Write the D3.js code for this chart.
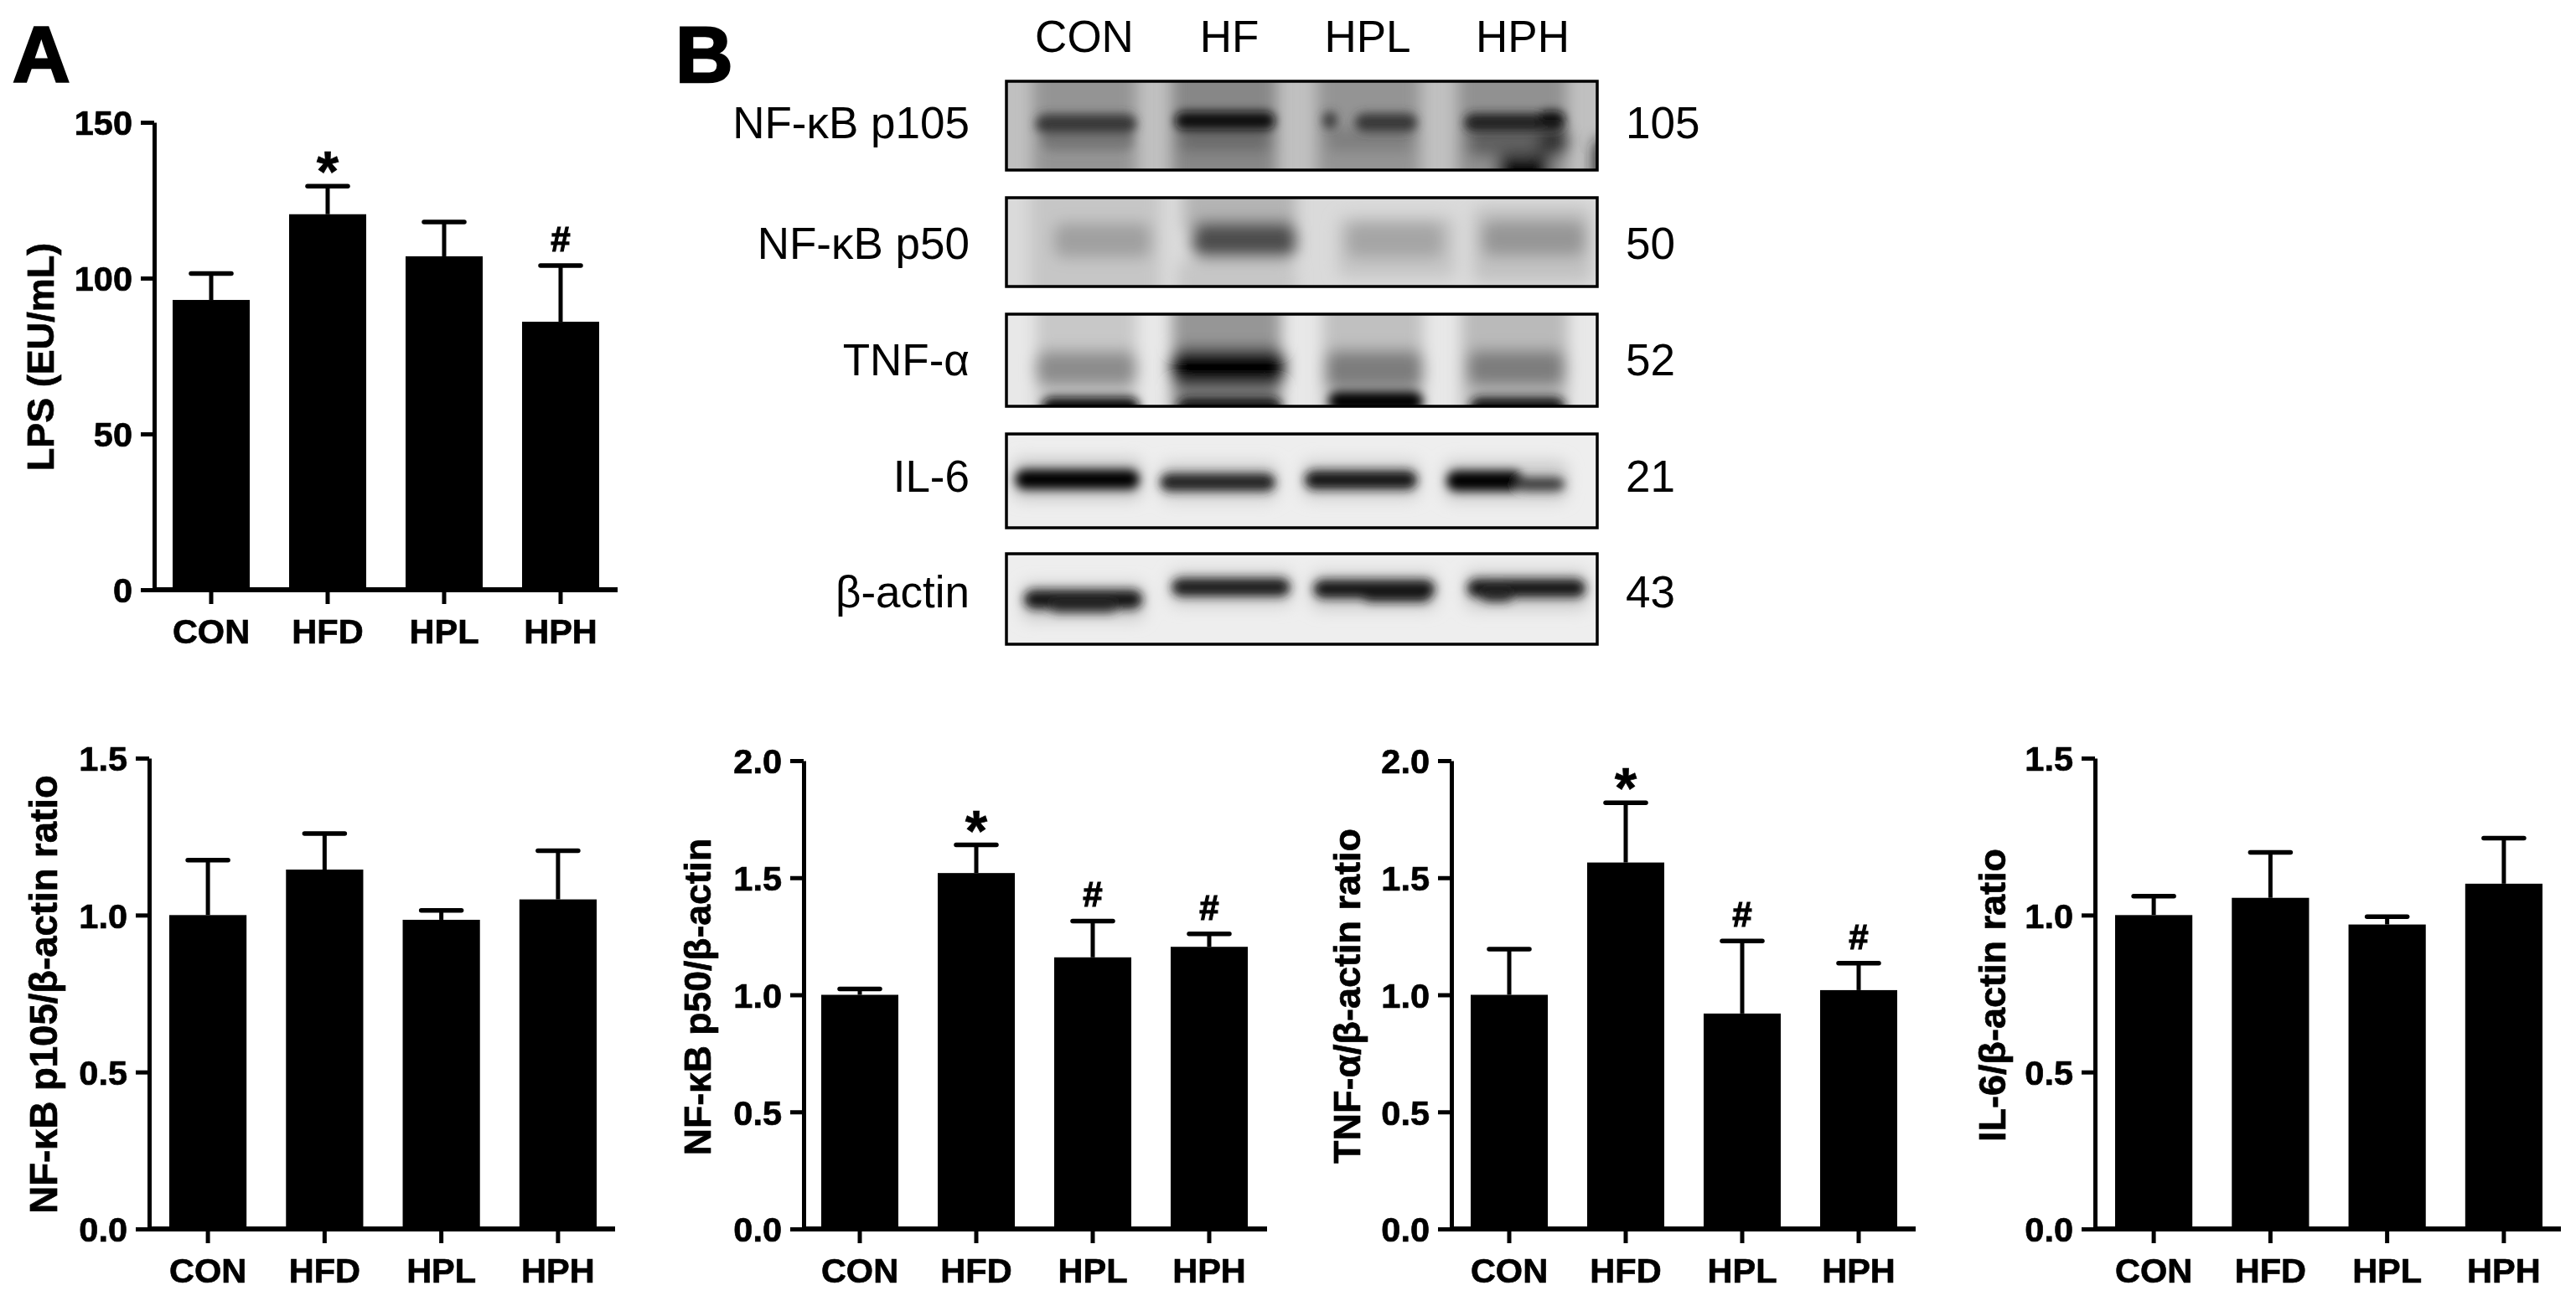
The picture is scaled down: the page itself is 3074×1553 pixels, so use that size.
<!DOCTYPE html>
<html><head><meta charset="utf-8">
<script src="https://cdn.jsdelivr.net/npm/d3@7"></script>
<style>
html,body{margin:0;padding:0;background:#fff}
svg{display:block;filter:blur(0.55px)}
text{font-family:"Liberation Sans",Arial,sans-serif;fill:#000}
</style></head><body>
<script>
// ---------- chart data ----------
const groups = ["CON","HFD","HPL","HPH"];

const lpsMeans  = [93, 120.5, 107, 86];
const lpsTops   = [101.5, 129.5, 118, 104];
const lpsMarks  = ["", "*", "", "#"];

const p105Means = [1.0, 1.145, 0.985, 1.05];
const p105Tops  = [1.175, 1.26, 1.015, 1.205];
const p105Marks = ["", "", "", ""];

const p50Means  = [1.0, 1.52, 1.16, 1.205];
const p50Tops   = [1.025, 1.64, 1.315, 1.26];
const p50Marks  = ["", "*", "#", "#"];

const tnfMeans  = [1.0, 1.565, 0.92, 1.02];
const tnfTops   = [1.195, 1.82, 1.23, 1.135];
const tnfMarks  = ["", "*", "#", "#"];

const il6Means  = [1.0, 1.055, 0.97, 1.10];
const il6Tops   = [1.06, 1.2, 0.995, 1.245];
const il6Marks  = ["", "", "", ""];

const ticks150 = [0, 50, 100, 150];
const ticks15  = [0, 0.5, 1.0, 1.5];
const ticks20  = [0, 0.5, 1.0, 1.5, 2.0];

const blotLanes  = ["CON","HF","HPL","HPH"];
const blotNames  = ["NF-κB p105","NF-κB p50","TNF-α","IL-6","β-actin"];
const blotSizes  = ["105","50","52","21","43"];

// Blot densities: [x from, x to, y from, y to, grey] in fractions of a strip
const p105Bands = [
 [.045,.22,-.2,1.2,148],[.28,.457,-.2,1.2,135],[.526,.70,-.2,1.2,148],[.764,.948,-.2,1.2,145],
 [.06,.215,.56,.78,120],[.29,.45,.54,.78,105],[.54,.69,.54,.78,125],[.78,.94,.53,.85,95],
 [.05,.22,.37,.59,55],[.285,.455,.34,.55,15],[.535,.56,.34,.54,60],[.59,.695,.36,.57,55],[.775,.945,.36,.57,35],
 [.90,.945,.33,.49,10],[.90,.95,.5,.85,50],[.83,.92,.84,1.2,5],[.995,1.05,.65,1.2,30]
];
const p50Bands = [
 [.04,.26,-.2,1.2,198],[.30,.49,-.2,.4,180],[.29,.49,.7,1.2,198],[.56,.76,.2,.9,198],[.79,.99,.1,.95,194],
 [.08,.245,.28,.68,160],[.315,.49,.27,.68,78],[.575,.74,.28,.68,165],[.805,.98,.26,.66,150]
];
const tnfBands = [
 [.05,.22,-.2,1.2,200],[.28,.465,-.2,.42,150],[.28,.465,.7,1.2,132],[.535,.705,-.2,1.2,192],[.77,.95,-.2,1.2,186],
 [.05,.22,.40,.78,140],[.54,.705,.39,.82,125],[.78,.945,.39,.78,125],
 [.28,.47,.37,.78,0],[.06,.225,.90,1.12,10],[.29,.465,.91,1.12,25],[.545,.705,.84,1.06,0],[.785,.945,.90,1.12,20]
];
const il6Bands = [
 [.01,.23,.26,.70,200],[.26,.46,.30,.72,208],[.50,.70,.28,.70,208],[.74,.95,.28,.72,205],
 [.015,.225,.38,.59,0],[.26,.455,.42,.61,32],[.505,.695,.39,.59,18],[.745,.875,.39,.61,0],[.86,.945,.46,.61,60]
];
const actinBands = [
 [.025,.235,.32,.74,205],[.275,.485,.18,.58,208],[.515,.73,.20,.62,205],[.775,.985,.18,.62,205],
 [.03,.23,.40,.61,20],[.07,.19,.50,.65,40],[.28,.48,.27,.47,30],[.52,.725,.29,.49,20],[.60,.72,.36,.53,20],[.78,.98,.28,.48,22],[.80,.86,.36,.53,35]
];
const blotRows = [p105Bands,p50Bands,tnfBands,il6Bands,actinBands];
const blotGreys = [192,218,232,238,238];

// ---------- layout ----------
const W=3074,H=1553;
const panels=[
 {m:lpsMeans,t:lpsTops,s:lpsMarks,d:150,ticks:ticks150,fmt:d3.format("d"),label:"LPS (EU/mL)",
  ax:184,l:206,r:715,end:737,y0:704,y1:146,lx:64,ly:426,fs:45,base:768},
 {m:p105Means,t:p105Tops,s:p105Marks,d:1.5,ticks:ticks15,fmt:d3.format(".1f"),label:"NF-κB p105/β-actin ratio",
  ax:178,l:202,r:712,end:734,y0:1467,y1:905,lx:68,ly:1187,fs:45.5,base:1531},
 {m:p50Means,t:p50Tops,s:p50Marks,d:2,ticks:ticks20,fmt:d3.format(".1f"),label:"NF-κB p50/β-actin",
  ax:959,l:980,r:1489,end:1512,y0:1467,y1:908,lx:848,ly:1190,fs:44.5,base:1531},
 {m:tnfMeans,t:tnfTops,s:tnfMarks,d:2,ticks:ticks20,fmt:d3.format(".1f"),label:"TNF-α/β-actin ratio",
  ax:1732,l:1755,r:2264,end:2286,y0:1467,y1:908,lx:1623,ly:1189,fs:45,base:1531},
 {m:il6Means,t:il6Tops,s:il6Marks,d:1.5,ticks:ticks15,fmt:d3.format(".1f"),label:"IL-6/β-actin ratio",
  ax:2500,l:2524,r:3034,end:3056,y0:1467,y1:905,lx:2393,ly:1188,fs:45,base:1531}
];

const svg=d3.select("body").append("svg").attr("width",W).attr("height",H).attr("viewBox",[0,0,W,H]);
svg.append("rect").attr("width",W).attr("height",H).attr("fill","#fff");

svg.append("text").attr("x",15).attr("y",98).attr("font-size",95).attr("font-weight",700)
  .attr("stroke","#000").attr("stroke-width",2.5).text("A");
svg.append("text").attr("x",806).attr("y",98).attr("font-size",95).attr("font-weight",700)
  .attr("stroke","#000").attr("stroke-width",2.5).text("B");

panels.forEach(p=>{
  const g=svg.append("g");
  const x=d3.scaleBand().domain(groups).range([p.l,p.r]).paddingInner(0.338);
  const y=d3.scaleLinear().domain([0,p.d]).range([p.y0,p.y1]);
  const cx=d=>x(d)+x.bandwidth()/2;

  g.selectAll(".bar").data(groups).join("rect").attr("class","bar")
    .attr("x",d=>x(d)).attr("width",x.bandwidth())
    .attr("y",(d,i)=>y(p.m[i])).attr("height",(d,i)=>p.y0-y(p.m[i])).attr("fill","#000");
  g.selectAll(".stem").data(groups).join("line").attr("class","stem")
    .attr("x1",cx).attr("x2",cx).attr("y1",(d,i)=>y(p.m[i])).attr("y2",(d,i)=>y(p.t[i]))
    .attr("stroke","#000").attr("stroke-width",5);
  g.selectAll(".cap").data(groups).join("line").attr("class","cap")
    .attr("x1",d=>cx(d)-24).attr("x2",d=>cx(d)+24).attr("y1",(d,i)=>y(p.t[i])).attr("y2",(d,i)=>y(p.t[i]))
    .attr("stroke","#000").attr("stroke-width",5.5).attr("stroke-linecap","round");
  g.selectAll(".mark").data(groups).join("text").attr("class","mark")
    .attr("x",cx).attr("text-anchor","middle").attr("font-weight",700)
    .attr("stroke","#000").attr("stroke-width",(d,i)=>p.s[i]==="#"?1.2:0.6)
    .attr("font-size",(d,i)=>p.s[i]==="*"?68:42)
    .attr("y",(d,i)=>y(p.t[i])-(p.s[i]==="*"?-6:17))
    .text((d,i)=>p.s[i]);

  const ax=g.append("g").attr("transform",`translate(${p.ax},0)`)
    .call(d3.axisLeft(y).tickValues(p.ticks).tickFormat(p.fmt).tickSize(16).tickPadding(10).tickSizeOuter(0));
  ax.select(".domain").attr("stroke","#000").attr("stroke-width",5);
  ax.selectAll("line").attr("stroke","#000").attr("stroke-width",5);
  ax.selectAll("text").attr("font-size",41.5).attr("font-weight",700).attr("fill","#000")
    .attr("stroke","#000").attr("stroke-width",0.7)
    .attr("font-family","Liberation Sans").attr("dy","0.36em");

  const bx=g.append("g").attr("transform",`translate(0,${p.y0})`)
    .call(d3.axisBottom(x).tickSize(17).tickPadding(0).tickSizeOuter(0));
  bx.select(".domain").attr("d",`M${p.ax},0H${p.end}`).attr("stroke","#000").attr("stroke-width",6);
  bx.selectAll("line").attr("stroke","#000").attr("stroke-width",5);
  bx.selectAll("text").attr("font-size",41.5).attr("font-weight",700).attr("fill","#000")
    .attr("stroke","#000").attr("stroke-width",0.7)
    .attr("font-family","Liberation Sans").attr("dy",0).attr("y",p.base-p.y0);

  g.append("text").attr("transform",`translate(${p.lx},${p.ly}) rotate(-90)`)
    .attr("stroke","#000").attr("stroke-width",0.7)
    .attr("text-anchor","middle").attr("font-weight",700).attr("font-size",p.fs).text(p.label);
});

// ---------- western blot ----------
const defs=svg.append("defs");
[["softBlur",9],["tightBlur",6]].forEach(([id,s])=>{
  defs.append("filter").attr("id",id).attr("x",-100).attr("y",-100).attr("width",W+200).attr("height",H+200)
    .attr("filterUnits","userSpaceOnUse")
    .append("feGaussianBlur").attr("stdDeviation",s);
});

const stripX=d3.scaleLinear().domain([0,1]).range([1201,1906]);
const stripExt={"NF-κB p105":[97,203],"NF-κB p50":[236,342],"TNF-α":[375,485],"IL-6":[518,630],"β-actin":[661,769]};
const textBase={"NF-κB p105":165,"NF-κB p50":309,"TNF-α":448,"IL-6":587,"β-actin":725};
const grey=v=>d3.rgb(v,v,v).formatHex();
const isTight=d=>d[3]-d[2]<0.24;

blotNames.forEach((name,i)=>{
  const [t,b]=stripExt[name];
  const sy=d3.scaleLinear().domain([0,1]).range([t,b]);
  const id="clip"+i;
  defs.append("clipPath").attr("id",id).append("rect")
    .attr("x",stripX(0)).attr("y",t).attr("width",stripX(1)-stripX(0)).attr("height",b-t);
  const g=svg.append("g").attr("clip-path",`url(#${id})`);
  g.append("rect").attr("x",stripX(0)).attr("y",t).attr("width",stripX(1)-stripX(0)).attr("height",b-t)
    .attr("fill",grey(blotGreys[i]));
  const draw=(sel,rows)=>sel.selectAll("rect").data(rows).join("rect")
    .attr("x",d=>stripX(d[0])).attr("width",d=>stripX(d[1])-stripX(d[0]))
    .attr("y",d=>sy(d[2])).attr("height",d=>sy(d[3])-sy(d[2]))
    .attr("rx",12).attr("fill",d=>grey(d[4]));
  draw(g.append("g").attr("filter","url(#softBlur)"),blotRows[i].filter(d=>!isTight(d)));
  draw(g.append("g").attr("filter","url(#tightBlur)"),blotRows[i].filter(isTight));
  svg.append("rect").attr("x",stripX(0)).attr("y",t).attr("width",stripX(1)-stripX(0)).attr("height",b-t)
    .attr("fill","none").attr("stroke","#000").attr("stroke-width",3.5);
  svg.append("text").attr("x",1157).attr("y",textBase[name]).attr("text-anchor","end")
    .attr("font-size",53).text(name);
  svg.append("text").attr("x",1940).attr("y",textBase[name]).attr("font-size",53).text(blotSizes[i]);
});

const laneCenters=d3.scaleOrdinal().domain(blotLanes).range([1294,1467,1632,1817]);
svg.selectAll(".lane").data(blotLanes).join("text").attr("class","lane")
  .attr("x",d=>laneCenters(d)).attr("y",62).attr("text-anchor","middle").attr("font-size",53).text(d=>d);
</script>
</body></html>
